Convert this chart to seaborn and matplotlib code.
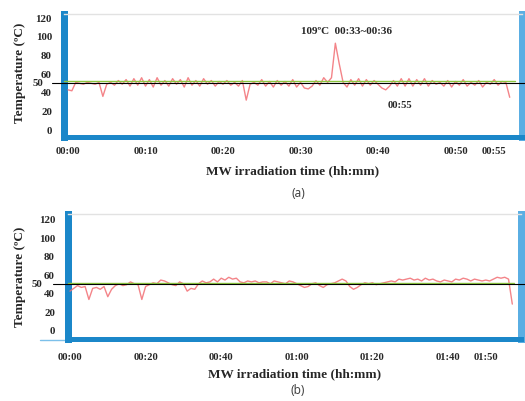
import numpy as np
import pandas as pd
import matplotlib
matplotlib.use("Agg")
import matplotlib.pyplot as plt
import matplotlib.transforms as mtransforms
import seaborn as sns

# ---------------- data ----------------
# (a) temperature samples every 0.5 min, 00:00 .. 00:57
temp_a = [42, 41, 50, 49, 48, 50, 49, 48, 50, 35,
          48, 50, 47, 52, 48, 53, 46, 54, 47, 55,
          46, 53, 45, 55, 47, 52, 46, 54, 48, 53,
          45, 55, 47, 52, 46, 54, 48, 52, 46, 51,
          48, 52, 47, 50, 46, 52, 31, 48, 50, 47,
          53, 46, 51, 45, 52, 47, 51, 46, 53, 45,
          50, 44, 43, 46, 52, 47, 55, 50, 55, 92,
          70, 50, 45, 53, 47, 54, 46, 53, 47, 52,
          48, 44, 42, 46, 52, 46, 54, 46, 54, 46,
          53, 47, 54, 46, 52, 48, 50, 46, 52, 45,
          51, 47, 53, 46, 50, 47, 52, 45, 50, 48,
          53, 47, 51, 50, 34]
step_a = 0.5

# (b) temperature samples every 1 min, 00:00 .. 01:57
temp_b = [42, 45, 48, 46, 47, 33, 45, 46, 44, 47,
          36, 44, 48, 50, 48, 49, 52, 50, 49, 33,
          47, 49, 51, 50, 54, 53, 51, 49, 48, 52,
          50, 42, 45, 44, 50, 53, 51, 52, 55, 52,
          56, 54, 57, 55, 56, 52, 51, 53, 52, 53,
          51, 52, 52, 50, 53, 52, 51, 50, 53, 52,
          50, 48, 46, 47, 50, 51, 48, 46, 49, 50,
          51, 53, 55, 53, 47, 44, 46, 49, 51, 50,
          51, 49, 50, 51, 52, 53, 52, 55, 54, 55,
          56, 54, 55, 53, 56, 54, 55, 53, 52, 54,
          53, 52, 55, 54, 56, 55, 53, 55, 54, 53,
          54, 53, 55, 57, 56, 57, 55, 28]
step_b = 1.0

ytick_vals = [0, 20, 40, 60, 80, 100, 120]
xticks_a = [0, 10, 20, 30, 40, 50, 55]
xlabels_a = ["00:00", "00:10", "00:20", "00:30", "00:40", "00:50", "00:55"]
xticks_b = [0, 20, 40, 60, 80, 100, 110]
xlabels_b = ["00:00", "00:20", "00:40", "01:00", "01:20", "01:40", "01:50"]

df_a = pd.DataFrame({"t": np.arange(len(temp_a)) * step_a, "T": temp_a})
df_b = pd.DataFrame({"t": np.arange(len(temp_b)) * step_b, "T": temp_b})

# ---------------- style ----------------
sns.set_theme(style="white")
plt.rcParams["font.family"] = ["Liberation Serif", "DejaVu Serif"]

W, H = 525, 402
fig = plt.figure(figsize=(W / 100, H / 100), dpi=100)

BLUE = "#1b87c9"
BLUE_R = "#5aaee3"
RED = "#f26f74"
GREEN = "#8cc63f"
PX = 72 / 100  # points per pixel


def panel(rect, df, xlim, ylim, xticks, xlabels, ylab_xy, xlab_y, fifty_x,
          line_x0, ypad, xpad):
    ax = fig.add_axes(rect)
    sns.lineplot(data=df, x="t", y="T", ax=ax, color=RED, linewidth=1.0,
                 alpha=0.85, zorder=3)
    ax.set_xlim(*xlim)
    ax.set_ylim(*ylim)
    ax.set_yticks(ytick_vals)
    ax.set_yticklabels([str(v) for v in ytick_vals], fontsize=7.8,
                       fontweight="bold")
    ax.set_xticks(xticks)
    ax.set_xticklabels(xlabels, fontsize=7.6, fontweight="bold")
    ax.tick_params(axis="y", length=0, pad=ypad)
    ax.tick_params(axis="x", length=0, pad=xpad)
    ax.spines["left"].set_color(BLUE)
    ax.spines["left"].set_linewidth(7 * PX)
    ax.spines["bottom"].set_color(BLUE)
    ax.spines["bottom"].set_linewidth(5 * PX)
    ax.spines["right"].set_color(BLUE_R)
    ax.spines["right"].set_linewidth(7 * PX)
    ax.spines["top"].set_color("#e2e2e2")
    ax.spines["top"].set_linewidth(1.0)
    for s in ax.spines.values():
        s.set_zorder(2)

    trans = mtransforms.blended_transform_factory(ax.transAxes, ax.transData)
    ax.plot([0.0, 0.985], [51.3, 51.3], transform=trans, color=GREEN,
            linewidth=1.0, zorder=4, clip_on=False)
    ax.plot([line_x0, 1.01], [49.6, 49.6], transform=trans, color="black",
            linewidth=0.8, zorder=5, clip_on=False)
    ax.text(fifty_x, 50, "50", transform=trans, ha="right", va="center",
            fontsize=7.8, fontweight="bold")

    ax.set_ylabel("Temperature (ºC)", fontsize=9.5, fontweight="bold")
    ax.yaxis.set_label_coords(*ylab_xy)
    ax.yaxis.label.set_va("center")
    ax.set_xlabel("MW irradiation time (hh:mm)", fontsize=9.5,
                  fontweight="bold")
    ax.xaxis.set_label_coords(0.5, xlab_y)
    ax.xaxis.label.set_va("center")
    return ax


# panel (a)
ax_a = panel([63.5 / W, (H - 137.5) / H, 458 / W, 122.5 / H], df_a,
             (-0.58, 58.52), (-8.0, 123.3), xticks_a, xlabels_a,
             (-0.095, 0.527), -0.275, -0.043, -0.025, 8.3, 7.0)
ax_a.text(36.0, 106, "109ºC  00:33~00:36", ha="center", va="center",
          fontsize=8, fontweight="bold")
ax_a.text(42.8, 26.8, "00:55", ha="center", va="center", fontsize=7.6,
          fontweight="bold")

# panel (b)
ax_b = panel([67.5 / W, (H - 339.5) / H, 453.5 / W, 124.5 / H], df_b,
             (-0.66, 119.3), (-9.2, 125.4), xticks_b, xlabels_b,
             (-0.105, 0.502), -0.28, -0.056, -0.032, 9.0, 9.5)
ax_b.plot([-0.06, 0.0], [-0.012, -0.012], transform=ax_b.transAxes,
          color="#7cc0ea", linewidth=1.0, clip_on=False, zorder=1)

fig.text(298 / W, 1 - 194 / H, "(a)", ha="center", va="center",
         fontsize=8.5, color="#444444", family="Noto Sans")
fig.text(298 / W, 1 - 391 / H, "(b)", ha="center", va="center",
         fontsize=8.5, color="#444444", family="Noto Sans")

fig.savefig("out.png", dpi=100, facecolor="white")
